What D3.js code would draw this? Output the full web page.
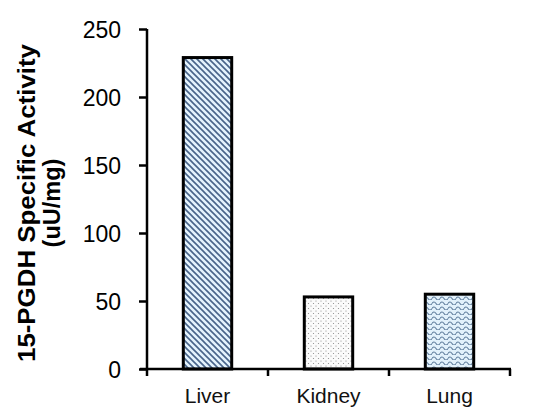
<!DOCTYPE html>
<html><head><meta charset="utf-8">
<script src="https://cdn.jsdelivr.net/npm/d3@7"></script>
<style>body{margin:0;background:#fff}svg{display:block}text{font-family:Arial,"Liberation Sans",sans-serif}</style>
</head><body>
<svg id="c" width="533" height="419"></svg>
<script>
const categories = ["Liver", "Kidney", "Lung"];
const values = [229, 53, 55];
const yTicks = [0, 50, 100, 150, 200, 250];
const patterns = ["stripes", "dots", "waves"];

const svg = d3.select("#c");
const defs = svg.append("defs");

// stripes
const p1 = defs.append("pattern").attr("id","stripes").attr("patternUnits","userSpaceOnUse")
  .attr("width",6).attr("height",6);
p1.append("rect").attr("width",6).attr("height",6).attr("fill","#e4f3fd");
p1.append("path").attr("d","M-1,-1L7,7M-1,5L1,7M5,-1L7,1").attr("stroke","#48648a").attr("stroke-width",1.6);
// dots
const p2 = defs.append("pattern").attr("id","dots").attr("patternUnits","userSpaceOnUse")
  .attr("width",5).attr("height",5);
p2.append("rect").attr("width",5).attr("height",5).attr("fill","#fbfbfb");
p2.append("circle").attr("cx",1).attr("cy",1).attr("r",0.6).attr("fill","#8a8a8a");
p2.append("circle").attr("cx",3.5).attr("cy",3.5).attr("r",0.6).attr("fill","#8a8a8a");
// waves
const p3 = defs.append("pattern").attr("id","waves").attr("patternUnits","userSpaceOnUse")
  .attr("width",8).attr("height",5);
p3.append("rect").attr("width",8).attr("height",5).attr("fill","#e2f1fb");
p3.append("path").attr("d","M0,3.5Q2,0.5 4,3.5T8,3.5").attr("fill","none").attr("stroke","#5f7d9c").attr("stroke-width",1.1);

const x = d3.scaleBand().domain(categories).range([147, 510]).paddingInner(0.6).paddingOuter(0.3);
const y = d3.scaleLinear().domain([0, 250]).range([369, 29]);

// bars
svg.append("g").selectAll("rect").data(categories).join("rect")
  .attr("x", d => x(d))
  .attr("width", x.bandwidth())
  .attr("y", (d,i) => y(values[i]))
  .attr("height", (d,i) => y(0) - y(values[i]))
  .attr("fill", (d,i) => `url(#${patterns[i]})`)
  .attr("stroke", "#000").attr("stroke-width", 3);

// y axis
const ya = svg.append("g").attr("transform","translate(147,0)")
  .call(d3.axisLeft(y).tickValues(yTicks).tickSize(8).tickPadding(18));
ya.select(".domain").attr("stroke","#000").attr("stroke-width",2.5).attr("d","M0,"+y(250)+"V"+y(0));
ya.selectAll(".tick line").attr("stroke","#000").attr("stroke-width",2.5);
ya.selectAll(".tick text").attr("font-size",23).attr("fill","#000").attr("dy","0.35em");

// x axis with ticks at band boundaries
const xa = svg.append("g").attr("transform",`translate(0,${y(0)})`);
xa.append("line").attr("x1",140).attr("x2",511).attr("stroke","#000").attr("stroke-width",2.5);
const bounds = [147].concat(categories.map(c => x(c) + x.bandwidth()/2 + x.step()/2));
xa.selectAll("line.t").data(bounds).join("line").attr("class","t")
  .attr("x1",d=>d).attr("x2",d=>d).attr("y1",0).attr("y2",7)
  .attr("stroke","#000").attr("stroke-width",2.5);
xa.selectAll("text").data(categories).join("text")
  .attr("x", d => x(d) + x.bandwidth()/2).attr("y", 34)
  .attr("text-anchor","middle").attr("font-size",21).attr("fill","#111").text(d=>d);

// title
const t = svg.append("text").attr("transform","translate(0,203) rotate(-90)")
  .attr("text-anchor","middle").attr("font-weight","bold").attr("font-size",23.5).attr("fill","#000");
t.append("tspan").attr("x",0).attr("y",35).attr("textLength",318).attr("lengthAdjust","spacingAndGlyphs").text("15-PGDH Specific Activity");
t.append("tspan").attr("x",0).attr("y",60).text("(uU/mg)");
</script>
</body></html>
